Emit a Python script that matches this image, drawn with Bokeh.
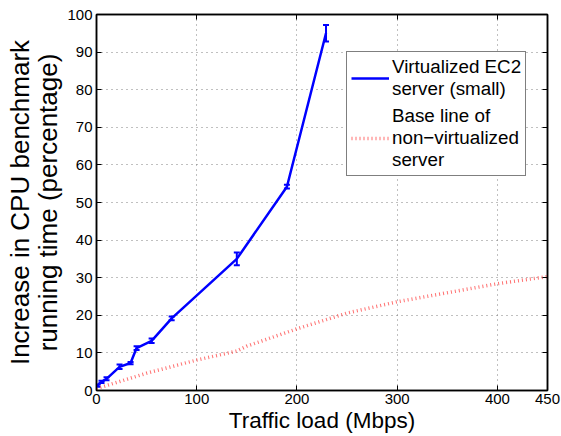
from bokeh.plotting import figure
from bokeh.models import (Range1d, LinearAxis, FixedTicker, Whisker, ColumnDataSource,
                          TeeHead, Legend, LegendItem)
from bokeh.embed import file_html
from bokeh.resources import INLINE

# data
load_ec2 = [1, 5, 10, 23, 34, 40, 55, 75, 140, 190, 229]
incr_ec2 = [1.3, 2.3, 3.1, 6.3, 7.3, 11.3, 13.2, 19.2, 35.0, 54.2, 95.0]
err_ec2 = [0.3, 0.3, 0.4, 0.6, 0.3, 0.5, 0.6, 0.5, 1.7, 0.5, 2.2]

load_base = [0, 50, 100, 140, 150, 200, 250, 300, 350, 400, 450]
incr_base = [0.5, 4.6, 8.1, 10.5, 11.8, 16.4, 20.6, 23.6, 26.0, 28.4, 30.3]

x_ticks = [0, 100, 200, 300, 400, 450]
y_ticks = [0, 10, 20, 30, 40, 50, 60, 70, 80, 90, 100]

FONT = "Liberation Sans"

p = figure(width=561, height=436, output_backend="svg", toolbar_location=None,
           x_range=Range1d(0, 450), y_range=Range1d(0, 100),
           min_border_left=96, min_border_right=14, min_border_top=14, min_border_bottom=46,
           background_fill_color="white", border_fill_color="white")
p.outline_line_color = "black"
p.outline_line_width = 1.5

for ax, ticks in ((p.xaxis[0], x_ticks), (p.yaxis[0], y_ticks)):
    ax.ticker = FixedTicker(ticks=ticks)
    ax.major_tick_in = 5
    ax.major_tick_out = 0
    ax.minor_tick_line_color = None
    ax.axis_line_color = "black"
    ax.axis_line_width = 1.5
    ax.major_label_text_font = FONT
    ax.major_label_text_font_size = "15px"
    ax.major_label_text_color = "black"
    ax.axis_label_text_font = FONT
    ax.axis_label_text_font_style = "normal"
    ax.axis_label_text_color = "black"

p.xaxis[0].axis_label = "Traffic load (Mbps)"
p.xaxis[0].axis_label_text_font_size = "22.5px"
p.xaxis[0].axis_label_standoff = 1
p.xaxis[0].major_label_standoff = 3
p.yaxis[0].axis_label = "Increase in CPU benchmark\nrunning time (percentage)"
p.yaxis[0].axis_label_text_font_size = "26px"
p.yaxis[0].axis_label_text_line_height = 0.95
p.yaxis[0].axis_label_standoff = 1
p.yaxis[0].major_label_standoff = 4

for loc, ticks in (("right", y_ticks), ("above", x_ticks)):
    ax = LinearAxis(ticker=FixedTicker(ticks=[], minor_ticks=ticks),
                    major_tick_line_color=None,
                    minor_tick_in=5, minor_tick_out=0, minor_tick_line_color="black",
                    axis_line_color="black", axis_line_width=1.5)
    p.add_layout(ax, loc)

p.xgrid.ticker = FixedTicker(ticks=[100, 200, 300, 400])
p.ygrid.ticker = FixedTicker(ticks=y_ticks[1:-1])
for g in (p.xgrid, p.ygrid):
    g.grid_line_color = "#808080"
    g.grid_line_dash = "1 4"
    g.grid_line_width = 1

base = p.line(load_base, incr_base, line_color="#ff4040", line_width=3.5,
              line_dash="1 3", line_alpha=0.75)

src = ColumnDataSource(dict(x=load_ec2, y=incr_ec2,
                            lo=[a - b for a, b in zip(incr_ec2, err_ec2)],
                            hi=[a + b for a, b in zip(incr_ec2, err_ec2)]))
ec2 = p.line("x", "y", source=src, line_color="#0000ff", line_width=2.5)
wh = Whisker(base="x", lower="lo", upper="hi", source=src, line_color="#0000ff", line_width=2,
             lower_head=TeeHead(size=6, line_color="#0000ff", line_width=2),
             upper_head=TeeHead(size=6, line_color="#0000ff", line_width=2))
p.add_layout(wh)

legend = Legend(items=[LegendItem(label="Virtualized EC2\nserver (small)", renderers=[ec2]),
                       LegendItem(label="Base line of\nnon\u2212virtualized\nserver", renderers=[base])],
                location=(250, 214), label_text_font=FONT, label_text_font_size="18.8px",
                label_text_color="black", border_line_color="black", border_line_width=1,
                background_fill_alpha=1, margin=0, padding=4, spacing=5,
                glyph_width=38, label_standoff=3, label_text_line_height=1.0)
p.add_layout(legend, "center")

open("out.html", "w").write(file_html(p, INLINE))
